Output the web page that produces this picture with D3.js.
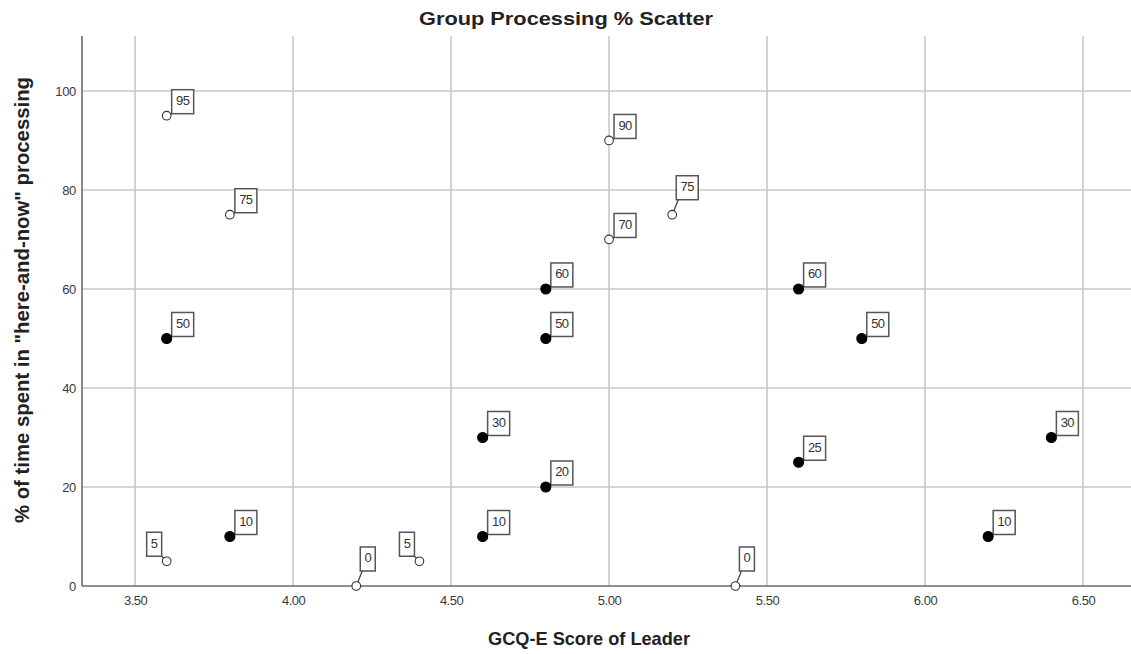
<!DOCTYPE html>
<html>
<head>
<meta charset="utf-8">
<script src="https://cdn.jsdelivr.net/npm/d3@7"></script>
<style>
  html, body { margin: 0; padding: 0; background: #fff; }
  svg { display: block; }
  text { font-family: Arial, "Liberation Sans", sans-serif; }
</style>
</head>
<body>
<svg id="chart" width="1131" height="654"></svg>
<script>
// ---- data ----
const openX   = [3.6, 3.8, 3.6, 4.2, 4.4, 5.0, 5.0, 5.2, 5.4];
const openY   = [95, 75, 5, 0, 5, 90, 70, 75, 0];
const openLabelSide = ["ur", "ur", "ul", "up", "ul", "ur", "ur", "up", "up"];

const filledX = [3.6, 3.8, 4.6, 4.6, 4.8, 4.8, 4.8, 5.6, 5.6, 5.8, 6.2, 6.4];
const filledY = [50, 10, 30, 10, 60, 50, 20, 60, 25, 50, 10, 30];
const filledLabelSide = ["ur","ur","ur","ur","ur","ur","ur","ur","ur","ur","ur","ur"];

const xTicks = [3.5, 4.0, 4.5, 5.0, 5.5, 6.0, 6.5];
const yTicks = [0, 20, 40, 60, 80, 100];

const titleText = "Group Processing % Scatter";
const xTitle = "GCQ-E Score of Leader";
const yTitle = '% of time spent in "here-and-now" processing';

// ---- layout ----
(function () {
const svg = d3.select("#chart");
const pL = 82, pR = 1131, pT = 36, pB = 586;

const x = d3.scaleLinear().domain([3.332, 6.652]).range([pL, pR]);
const y = d3.scaleLinear().domain([0, 111.1]).range([pB, pT]);

// gridlines
const grid = svg.append("g");
grid.selectAll("line.vx").data(xTicks).join("line")
  .attr("x1", d => x(d)).attr("x2", d => x(d))
  .attr("y1", pT).attr("y2", pB)
  .attr("stroke", "#c8c8c8").attr("stroke-width", 1.6);
grid.selectAll("line.hy").data(yTicks.filter(d => d > 0)).join("line")
  .attr("x1", pL).attr("x2", pR)
  .attr("y1", d => y(d)).attr("y2", d => y(d))
  .attr("stroke", "#c8c8c8").attr("stroke-width", 1.6);

// axes
const xAxis = d3.axisBottom(x).tickValues(xTicks).tickFormat(d3.format(".2f")).tickSize(0).tickPadding(10);
const yAxis = d3.axisLeft(y).tickValues(yTicks).tickSize(0).tickPadding(6);

const gx = svg.append("g").attr("transform", `translate(0,${pB})`).call(xAxis);
gx.select(".domain").remove();
gx.selectAll("text").attr("fill", "#3a3a3a").style("font-size", "13px").style("letter-spacing", "-0.5px");

const gy = svg.append("g").attr("transform", `translate(${pL},0)`).call(yAxis);
gy.select(".domain").remove();
gy.selectAll("text").attr("fill", "#3a3a3a").style("font-size", "13px").style("letter-spacing", "-0.3px");

// axis lines
svg.append("line").attr("x1", pL).attr("x2", pL).attr("y1", pT).attr("y2", pB)
  .attr("stroke", "#6a6a6a").attr("stroke-width", 1.6);
svg.append("line").attr("x1", pL).attr("x2", pR).attr("y1", pB).attr("y2", pB)
  .attr("stroke", "#6a6a6a").attr("stroke-width", 1.6);

// titles
svg.append("text").attr("x", 566).attr("y", 25).attr("text-anchor", "middle")
  .attr("textLength", 294).attr("lengthAdjust", "spacingAndGlyphs")
  .style("font-size", "19px").style("font-weight", "bold").attr("fill", "#222").text(titleText);
svg.append("text").attr("x", 589).attr("y", 645).attr("text-anchor", "middle")
  .attr("textLength", 202).attr("lengthAdjust", "spacingAndGlyphs")
  .style("font-size", "18.5px").style("font-weight", "bold").attr("fill", "#222").text(xTitle);
svg.append("text").attr("transform", "translate(29,300) rotate(-90)").attr("text-anchor", "middle")
  .attr("textLength", 446).attr("lengthAdjust", "spacingAndGlyphs")
  .style("font-size", "19.5px").style("font-weight", "bold").attr("fill", "#222").text(yTitle);

// points + labels
function build(xs, ys, sides, filled) {
  return xs.map((v, i) => ({ x: v, y: ys[i], side: sides[i], filled }));
}
const pts = build(openX, openY, openLabelSide, false).concat(build(filledX, filledY, filledLabelSide, true));

const labels = svg.append("g");
pts.forEach(p => {
  const cx = x(p.x), cy = y(p.y);
  const txt = String(p.y);
  const w = txt.length > 1 ? 22 : 15, h = 24;
  let bx, by, lx, ly;
  if (p.side === "ur") { bx = cx + 5; by = cy - 2 - h; lx = bx; ly = by + h; }
  else if (p.side === "ul") { bx = cx - 5 - w; by = cy - 5 - h; lx = bx + w; ly = by + h; }
  else { bx = cx + 4; by = cy - 15 - h; lx = bx + 2; ly = by + h; }
  labels.append("line").attr("x1", cx).attr("y1", cy).attr("x2", lx).attr("y2", ly)
    .attr("stroke", "#444").attr("stroke-width", 1.3);
  labels.append("rect").attr("x", bx).attr("y", by).attr("width", w).attr("height", h)
    .attr("fill", "#fff").attr("stroke", "#555").attr("stroke-width", 1.5);
  labels.append("text").attr("x", bx + w / 2).attr("y", by + h / 2).attr("text-anchor", "middle")
    .attr("dominant-baseline", "middle").style("font-size", "13px").style("letter-spacing", "-0.6px")
    .attr("fill", "#333").text(txt);
});

svg.append("g").selectAll("circle").data(pts).join("circle")
  .attr("cx", d => x(d.x)).attr("cy", d => y(d.y))
  .attr("r", d => d.filled ? 5 : 4.3)
  .attr("fill", d => d.filled ? "#000" : "#fff")
  .attr("stroke", d => d.filled ? "#000" : "#333")
  .attr("stroke-width", 1.1);
})();
</script>
</body>
</html>
